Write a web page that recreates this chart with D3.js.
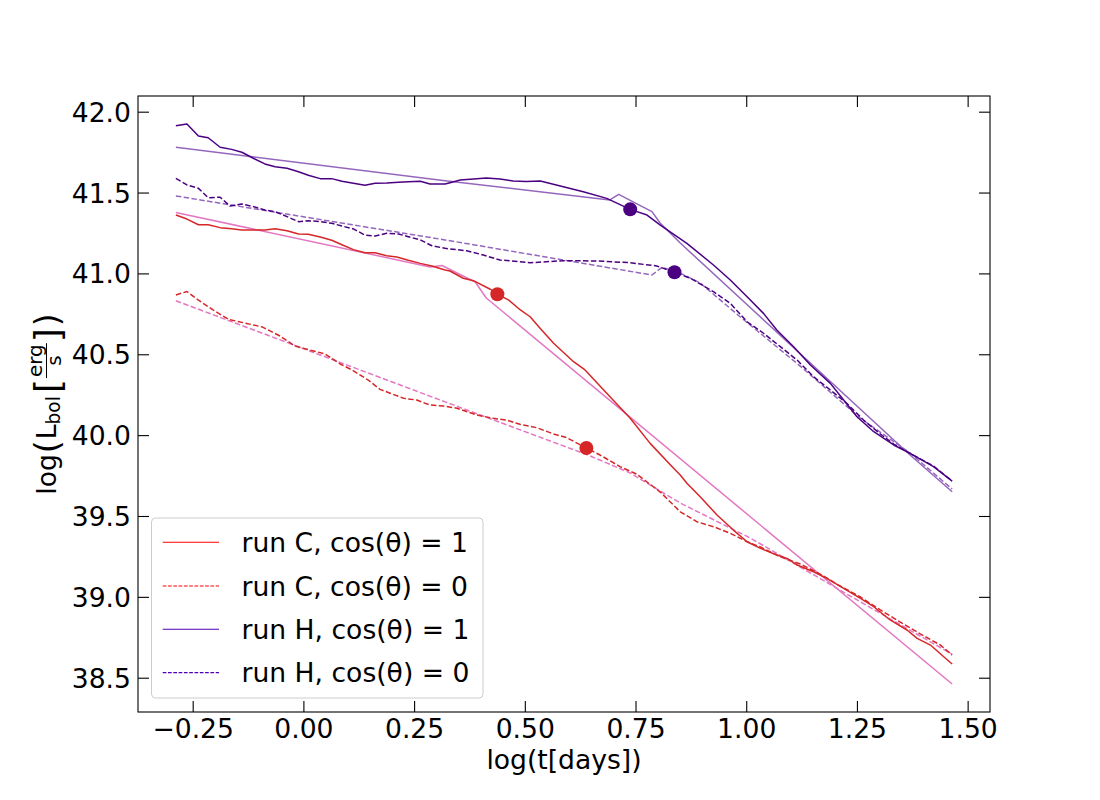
<!DOCTYPE html>
<html><head><meta charset="utf-8">
<script src="https://cdn.jsdelivr.net/npm/d3@7/dist/d3.min.js"></script>
<style>
body{margin:0;background:#fff}
text{font-family:"DejaVu Sans",sans-serif;fill:#000}
</style>
</head><body>
<svg id="chart" width="1100" height="800"></svg>
<script>
// ---------- data (log t [days], log L_bol [erg/s]) ----------
const xTicks = [-0.25, 0.00, 0.25, 0.50, 0.75, 1.00, 1.25, 1.50];
const yTicks = [38.5, 39.0, 39.5, 40.0, 40.5, 41.0, 41.5, 42.0];

const runC1 = [[-0.288,41.361],[-0.263,41.336],[-0.237,41.301],[-0.215,41.301],[-0.188,41.283],[-0.162,41.276],[-0.139,41.268],[-0.109,41.268],[-0.087,41.268],[-0.064,41.276],[-0.037,41.264],[-0.011,41.244],[0.011,41.242],[0.038,41.225],[0.064,41.205],[0.087,41.177],[0.113,41.147],[0.139,41.128],[0.162,41.128],[0.188,41.109],[0.211,41.101],[0.237,41.081],[0.264,41.062],[0.290,41.046],[0.320,41.021],[0.331,41.015],[0.361,40.970],[0.384,40.955],[0.422,40.902],[0.438,40.871],[0.463,40.836],[0.490,40.774],[0.512,40.732],[0.535,40.660],[0.565,40.568],[0.610,40.454],[0.636,40.403],[0.685,40.259],[0.738,40.104],[0.783,39.949],[0.836,39.795],[0.851,39.753],[0.866,39.702],[0.896,39.619],[0.934,39.506],[0.971,39.413],[1.002,39.341],[1.032,39.300],[1.069,39.259],[1.092,39.238],[1.115,39.197],[1.152,39.155],[1.182,39.114],[1.220,39.053],[1.258,38.991],[1.288,38.939],[1.325,38.857],[1.363,38.795],[1.386,38.743],[1.416,38.702],[1.446,38.630],[1.465,38.585]];

const runC0 = [[-0.288,40.867],[-0.263,40.888],[-0.237,40.835],[-0.204,40.774],[-0.169,40.716],[-0.132,40.693],[-0.093,40.669],[-0.053,40.613],[-0.019,40.551],[0.015,40.526],[0.049,40.502],[0.083,40.440],[0.110,40.403],[0.146,40.341],[0.173,40.283],[0.196,40.259],[0.226,40.228],[0.256,40.217],[0.286,40.186],[0.316,40.180],[0.347,40.166],[0.392,40.124],[0.429,40.104],[0.459,40.093],[0.489,40.067],[0.527,40.046],[0.565,40.007],[0.595,39.984],[0.639,39.920],[0.670,39.877],[0.715,39.805],[0.752,39.760],[0.806,39.648],[0.851,39.526],[0.889,39.464],[0.926,39.434],[0.964,39.393],[1.002,39.341],[1.032,39.308],[1.077,39.248],[1.122,39.203],[1.167,39.141],[1.212,39.067],[1.258,38.999],[1.303,38.919],[1.348,38.844],[1.393,38.771],[1.438,38.703],[1.465,38.640]];

const runH1 = [[-0.288,41.913],[-0.263,41.924],[-0.237,41.850],[-0.215,41.839],[-0.188,41.780],[-0.162,41.767],[-0.139,41.749],[-0.113,41.712],[-0.087,41.677],[-0.064,41.660],[-0.037,41.650],[-0.011,41.629],[0.011,41.607],[0.038,41.586],[0.064,41.586],[0.087,41.570],[0.113,41.557],[0.139,41.545],[0.162,41.557],[0.188,41.559],[0.215,41.563],[0.237,41.567],[0.264,41.570],[0.286,41.553],[0.320,41.553],[0.331,41.561],[0.354,41.578],[0.384,41.584],[0.413,41.590],[0.444,41.584],[0.474,41.571],[0.503,41.568],[0.535,41.571],[0.587,41.536],[0.632,41.505],[0.685,41.464],[0.738,41.396],[0.776,41.361],[0.806,41.299],[0.866,41.186],[0.926,41.052],[0.964,40.959],[1.002,40.856],[1.039,40.753],[1.069,40.650],[1.107,40.547],[1.145,40.434],[1.190,40.320],[1.220,40.217],[1.250,40.114],[1.288,40.021],[1.333,39.939],[1.370,39.887],[1.423,39.805],[1.465,39.716]];

const runH0 = [[-0.288,41.588],[-0.263,41.547],[-0.237,41.526],[-0.215,41.468],[-0.188,41.471],[-0.166,41.417],[-0.139,41.429],[-0.113,41.413],[-0.087,41.392],[-0.064,41.382],[-0.037,41.351],[-0.011,41.320],[0.011,41.326],[0.038,41.320],[0.064,41.310],[0.087,41.293],[0.113,41.275],[0.139,41.237],[0.162,41.231],[0.188,41.248],[0.215,41.244],[0.237,41.227],[0.264,41.207],[0.290,41.171],[0.320,41.155],[0.369,41.140],[0.406,41.114],[0.444,41.083],[0.512,41.066],[0.587,41.079],[0.663,41.077],[0.738,41.066],[0.798,41.046],[0.838,41.007],[0.874,40.970],[0.926,40.887],[0.964,40.815],[1.002,40.701],[1.039,40.630],[1.077,40.547],[1.115,40.464],[1.152,40.361],[1.190,40.279],[1.227,40.197],[1.265,40.093],[1.303,40.007],[1.333,39.945],[1.370,39.887],[1.423,39.809],[1.465,39.716]];

// broken power-law fits
const fitC1 = [[-0.288,41.377],[0.286,41.040],[0.313,41.049],[0.388,40.947],[0.413,40.848],[1.465,38.461]];
const fitC0 = [[-0.288,40.831],[0.309,40.217],[0.648,39.871],[0.738,39.766],[0.851,39.580],[1.009,39.364],[1.235,39.005],[1.465,38.645]];
const fitH1 = [[-0.288,41.780],[0.320,41.573],[0.692,41.454],[0.712,41.489],[0.787,41.382],[0.806,41.310],[0.851,41.188],[1.370,39.877],[1.465,39.650]];
const fitH0 = [[-0.288,41.479],[0.320,41.207],[0.787,40.990],[0.810,41.038],[0.851,41.002],[0.896,40.941],[0.986,40.732],[1.122,40.427],[1.257,40.106],[1.370,39.889],[1.465,39.667]];

// break markers
const markerT = [0.438, 0.639, 0.738, 0.838];
const markerL = [40.871, 39.920, 41.396, 41.007];
const markerRun = ["C", "C", "H", "H"];

const legendLabels = ["run C, cos(θ) = 1", "run C, cos(θ) = 0", "run H, cos(θ) = 1", "run H, cos(θ) = 0"];

// ---------- drawing ----------
const colC = "#d62728", colH = "#4b0082", colFitC = "#e377c2", colFitH = "#9467bd";
const FS = 26.6;
const svg = d3.select("#chart");
const PL = 138, PR = 990, PT = 96, PB = 712;
const x = d3.scaleLinear().domain([-0.3735, 1.5505]).range([PL, PR]);
const y = d3.scaleLinear().domain([38.288, 42.097]).range([PB, PT]);
const line = d3.line().x(d => x(d[0])).y(d => y(d[1]));

const plot = svg.append("g");
function drawLine(data, color, dashed, w) {
  plot.append("path").datum(data).attr("d", line)
    .attr("fill", "none").attr("stroke", color).attr("stroke-width", w)
    .attr("stroke-linejoin", "round")
    .attr("stroke-dasharray", dashed ? "5.5,2.4" : null);
}
drawLine(fitC1, colFitC, false, 1.5);
drawLine(fitC0, colFitC, true, 1.5);
drawLine(fitH1, colFitH, false, 1.5);
drawLine(fitH0, colFitH, true, 1.5);
drawLine(runC1, colC, false, 1.5);
drawLine(runC0, colC, true, 1.5);
drawLine(runH1, colH, false, 1.5);
drawLine(runH0, colH, true, 1.5);

plot.selectAll("circle.mk").data(markerT).enter().append("circle")
  .attr("cx", d => x(d)).attr("cy", (d, i) => y(markerL[i])).attr("r", 7)
  .attr("fill", (d, i) => markerRun[i] === "C" ? colC : colH);

// axes (ticks inward on all four sides)
const tickLen = 11;
const axB = d3.axisBottom(x).tickValues(xTicks).tickSize(-tickLen)
  .tickFormat(d => d3.format(".2f")(d).replace("-", "\u2212"));
const axT = d3.axisTop(x).tickValues(xTicks).tickSize(-tickLen).tickFormat("");
const axL = d3.axisLeft(y).tickValues(yTicks).tickSize(-tickLen)
  .tickFormat(d3.format(".1f"));
const axR = d3.axisRight(y).tickValues(yTicks).tickSize(-tickLen).tickFormat("");

function styleAxis(g) {
  g.select(".domain").remove();
  g.selectAll(".tick line").attr("stroke", "#000").attr("stroke-width", 1.1);
  g.selectAll(".tick text").style("font-family", "DejaVu Sans").style("font-size", FS + "px").attr("fill", "#000");
}
svg.append("g").attr("transform", `translate(0,${PB})`).call(axB).call(styleAxis)
  .selectAll(".tick text").attr("y", 26).attr("dy", null);
svg.append("g").attr("transform", `translate(0,${PT})`).call(axT).call(styleAxis);
svg.append("g").attr("transform", `translate(${PL},0)`).call(axL).call(styleAxis)
  .selectAll(".tick text").attr("x", -7).attr("dy", "0.36em");
svg.append("g").attr("transform", `translate(${PR},0)`).call(axR).call(styleAxis);

svg.append("rect").attr("x", PL).attr("y", PT).attr("width", PR - PL).attr("height", PB - PT)
  .attr("fill", "none").attr("stroke", "#000").attr("stroke-width", 1.1);

// x label
svg.append("text").attr("x", (PL + PR) / 2).attr("y", 769).attr("text-anchor", "middle")
  .style("font-size", FS + "px").text("log(t[days])");

// y label with math: log( L_bol [erg/s] )
(function () {
  const g = svg.append("g");
  let cur = 0;
  function add(txt, size, dy, gapAfter) {
    const t = g.append("text").attr("x", cur).attr("y", dy).style("font-size", size + "px").text(txt);
    const w = t.node().getComputedTextLength();
    cur += w + (gapAfter || 0);
    return t;
  }
  add("log", FS, 0, 1);
  add("(", 33, 3, 1);
  add("L", FS, 0, 0);
  add("bol", 18.6, 4, 3);
  add("[", 36, 4, 1);
  const nt = g.append("text").attr("y", -14).style("font-size", "20px").attr("text-anchor", "middle").text("erg");
  const fw = nt.node().getComputedTextLength() + 2;
  nt.attr("x", cur + fw / 2);
  g.append("line").attr("x1", cur).attr("x2", cur + fw).attr("y1", -9.5).attr("y2", -9.5)
    .attr("stroke", "#000").attr("stroke-width", 1);
  g.append("text").attr("x", cur + fw / 2).attr("y", 5).style("font-size", "20px")
    .attr("text-anchor", "middle").text("s");
  cur += fw + 1;
  add("]", 36, 4, 2);
  add(")", 33, 3, 0);
  g.attr("transform", `translate(56,${(PT + PB) / 2}) rotate(-90) translate(${-cur / 2},0)`);
})();

// legend
const lg = svg.append("g");
lg.append("rect").attr("x", 151.5).attr("y", 518).attr("width", 331.5).attr("height", 180)
  .attr("rx", 4).attr("fill", "#fff").attr("fill-opacity", 0.8)
  .attr("stroke", "#cccccc").attr("stroke-width", 1);
const legColors = ["red", "red", "#5000b4", "#5000b4"];
const legDash = [false, true, false, true];
const rowY = [542.3, 586, 629.3, 672.6];
legendLabels.forEach((lab, i) => {
  lg.append("line").attr("x1", 162.7).attr("x2", 219).attr("y1", rowY[i]).attr("y2", rowY[i])
    .attr("stroke", legColors[i]).attr("stroke-width", 1.1)
    .attr("stroke-dasharray", legDash[i] ? "3.7,1.6" : null);
  lg.append("text").attr("x", 241.5).attr("y", rowY[i] + 9.7).style("font-size", FS + "px")
    .attr("xml:space", "preserve").text(lab);
});
</script>
</body></html>
